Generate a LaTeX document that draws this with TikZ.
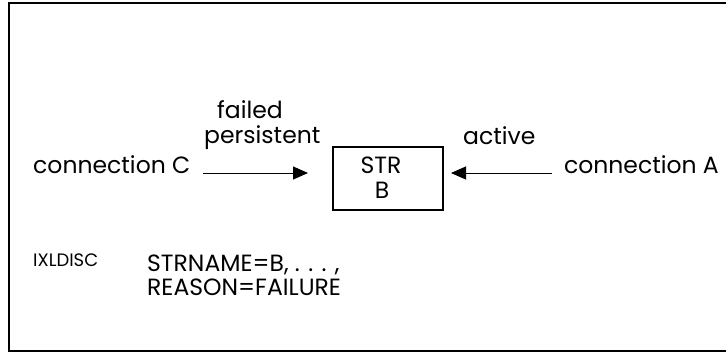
\documentclass[tikz,border=0pt]{standalone}
\usepackage{fontspec}
\setmainfont{Poppins}
\usetikzlibrary{arrows.meta}
\begin{document}
\begin{tikzpicture}[x=1pt,y=-1pt,
  lbl/.style={font=\fontsize{23.5}{25}\selectfont, inner sep=0pt},
  small/.style={font=\fontsize{18}{20}\selectfont, inner sep=0pt},
  conn/.style={line width=1pt, -{Triangle[length=15pt,width=13pt]}}]
\useasboundingbox (0,0) rectangle (726,353);
\draw[line width=2.5pt] (727,3) -- (9,3) -- (9,351) -- (727,351);
\node[draw, line width=2pt, minimum width=110pt, minimum height=63pt, inner sep=0pt] (str) at (388,178.5) {};
\node[lbl, anchor=base] (s1) at (381,173) {STR};
\node[lbl, anchor=base] (s2) at (382,198) {B};
\node[lbl, anchor=base west] (c) at (33,173) {connection C};
\node[lbl, anchor=base east] (a) at (719,173) {connection A};
\coordinate (cs) at (203,173);
\coordinate (ce) at (308,173);
\coordinate (as) at (552,173);
\coordinate (ae) at (451,173);
\draw[conn] (cs) -- (ce);
\draw[conn] (as) -- (ae);
\node[lbl, anchor=base west] (f) at (217,118) {failed};
\node[lbl, anchor=base west] (p) at (204,143) {persistent};
\node[lbl, anchor=base west] (act) at (463,144) {active};
\node[small, anchor=base west] (ix) at (33,266) {IXLDISC};
\node[lbl, anchor=base west] (sn) at (147,271) {STRNAME=B, . . . ,};
\node[lbl, anchor=base west] (rs) at (147,295) {REASON=FAILURE};
\end{tikzpicture}
\end{document}
